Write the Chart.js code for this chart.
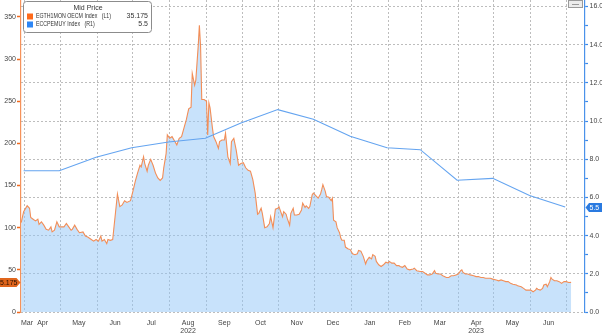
<!DOCTYPE html>
<html>
<head>
<meta charset="utf-8">
<script src="https://cdn.jsdelivr.net/npm/chart.js@4.4.0/dist/chart.umd.min.js"></script>
<style>
  html, body { margin: 0; padding: 0; background: #fff; }
  #chart { display: block; }
</style>
</head>
<body>
<canvas id="chart" width="602" height="335"></canvas>
<script>
// x values are days counted from 2022-04-01
const ttfDays = [-3,-1,2,4,5,7,9,11,12,14,16,18,20,22,23,25,27,29,31,33,35,37,39,40,42,44,46,49,51,53,56,58,60,62,64,65,67,69,70,72,74,76,78,80,82,84,86,89,
  91,93,95,97,98,100,101,103,104,106,108,110,112,114,116,117,119,120,122,124,126,128,130,132,134,136,138,140,141,143,144,146,147,148,149,151,153,154,155,156,158,159,161,163,164,166,168,169,171,173,174,176,178,180,182,184,186,188,190,
  192,194,196,197,199,200,202,204,206,207,209,211,213,214,216,217,218,220,221,223,224,226,227,229,231,233,234,236,237,239,240,242,243,245,247,249,250,251,253,254,256,258,259,260,262,263,265,266,267,269,270,272,274,276,278,280,281,283,285,287,288,290,292,293,295,296,298,300,302,304,306,307,309,311,313,315,
  316,318,320,322,324,327,328,330,333,335,337,339,341,343,345,346,348,350,352,355,357,359,361,363,365,367,368,369,371,373,375,378,380,382,384,386,388,390,392,394,397,399,401,403,405,407,409,411,414,415,418,420,422,424,426,428,430,431,432,434,436,437,439,440,442,443,444,446,448,450,452,454,456,458,460];
const ttfPrice = [106,119,126,123,112,110,108,110,104,107,103,98,97,101,95,97,107,101,101,101,105,101,97,98,103,98,94,95,90,89,86,84,86,84,90,84,86,81,86,85,86,113,140,125,127,132,130,132,
  143,155,165,174,172,184,176,167,174,181,174,165,159,156,159,171,188,210,206,208,203,198,206,208,218,228,241,243,283,269,275,315,340,315,252,252,250,210,248,242,218,208,202,194,202,204,204,212,184,176,202,206,192,174,176,177,171,168,167,
  157,141,116,117,123,117,100,101,105,113,100,122,123,125,117,113,119,116,111,103,117,123,115,115,116,121,129,124,126,123,125,139,141,138,135,140,145,151,143,137,136,132,135,109,107,100,94,88,85,85,77,75,74,69,68,69,73,72,66,57,61,65,63,68,66,60,56,54,56,59,58,60,58,58,55,55,
  54,53,55,51,50,51,52,49,48,48,46,44,44,45,49,46,45,45,43,41,41,43,43,44,45,49,50,47,45,45,44,43,42,42,41,41,40,40,40,39,38,37,38,37,36,36,34,33,32,31,30,28,26,26,26,24,26,28,27,26,28,32,33,30,36,41,39,37,37,36,34,36,36,35,35.175];

// euro area CPI YoY, plotted at each month end
const cpiDays = [-1,29,60,90,121,152,182,213,243,274,305,333,364,394,425,455];
const cpiYoY = [7.4,7.4,8.1,8.6,8.9,9.1,9.9,10.6,10.1,9.2,8.6,8.5,6.9,7.0,6.1,5.5];

const monthLabels = ['Mar','Apr','May','Jun','Jul','Aug','Sep','Oct','Nov','Dec','Jan','Feb','Mar','Apr','May','Jun'];
const yearLabels = ['','','','','','2022','','','','','','','','2023','',''];
const leftTicks = [0,50,100,150,200,250,300,350];
const rightTicks = [0,1,2,3,4,5,6,7,8,9,10,11,12,13,14,15,16];

const seriesNames = ['EGTH1MON OECM Index', 'ECCPEMUY Index'];
const seriesAxes = ['(L1)', '(R1)'];

const ORANGE = '#f28e58';
const BLUE = '#64a4f0';
const GRID = '#bdbdbd';
const FONT = '"Liberation Sans", Arial, sans-serif';

const xMin = -3.2, xMax = 471.7;
const DAY = 86400000;
const base = Date.UTC(2022, 3, 1);

// month starts (for grid lines) and label positions in the middle of each month
const gridDays = [];
const labelDays = [];
for (let k = 0; k <= 15; k++) {
  gridDays.push((Date.UTC(2022, 3 + k, 1) - base) / DAY);
}
labelDays.push(xMin + 5);
for (let k = 0; k < 15; k++) {
  labelDays.push((gridDays[k] + gridDays[k + 1]) / 2);
}
const gridSet = new Set(gridDays);
const labelMap = new Map();
labelDays.forEach((d, i) => {
  labelMap.set(d, yearLabels[i] ? [monthLabels[i], yearLabels[i]] : monthLabels[i]);
});

Chart.defaults.font.family = FONT;
Chart.defaults.font.size = 7;
Chart.defaults.color = '#444';

function tag(ctx, pts, fill) {
  ctx.beginPath();
  ctx.moveTo(pts[0][0], pts[0][1]);
  for (let i = 1; i < pts.length; i++) ctx.lineTo(pts[i][0], pts[i][1]);
  ctx.closePath();
  ctx.fillStyle = fill;
  ctx.fill();
}

// legend box, last-value tags on both axes, small toolbar box
const overlay = {
  id: 'overlay',
  afterDraw(chart) {
    const ctx = chart.ctx;
    const yL = chart.scales.y, yR = chart.scales.y1;
    const lastTtf = ttfPrice[ttfPrice.length - 1];
    const lastCpi = cpiYoY[cpiYoY.length - 1];
    ctx.save();

    // left tag
    let y = Math.round(yL.getPixelForValue(lastTtf)) + 0.5;
    tag(ctx, [[0, y - 4.5], [16.5, y - 4.5], [20.5, y], [16.5, y + 4.5], [0, y + 4.5]], '#e0661d');
    ctx.font = '7px ' + FONT;
    ctx.fillStyle = '#2a1000';
    ctx.textAlign = 'right';
    ctx.textBaseline = 'middle';
    ctx.fillText(lastTtf.toFixed(3), 17.5, y + 0.5);

    // right tag
    y = Math.round(yR.getPixelForValue(lastCpi)) + 0.5;
    const rx = yR.left;
    tag(ctx, [[rx + 0.5, y], [rx + 4, y - 4.5], [602, y - 4.5], [602, y + 4.5], [rx + 4, y + 4.5]], '#2a7ae0');
    ctx.fillStyle = '#fff';
    ctx.textAlign = 'left';
    ctx.fillText(String(lastCpi), rx + 4.5, y + 0.5);

    // toolbar box in the top right corner
    ctx.fillStyle = '#ececec';
    ctx.fillRect(568.5, 0.5, 14, 7);
    ctx.strokeStyle = '#9a9a9a';
    ctx.lineWidth = 1;
    ctx.strokeRect(568.5, 0.5, 14, 7);
    ctx.beginPath();
    ctx.moveTo(572, 4.5);
    ctx.lineTo(579, 4.5);
    ctx.stroke();

    // legend
    ctx.beginPath();
    ctx.roundRect(23.5, 1.5, 128, 31, 3);
    ctx.fillStyle = '#fff';
    ctx.fill();
    ctx.strokeStyle = '#8c8c8c';
    ctx.stroke();

    ctx.fillStyle = '#333';
    ctx.textAlign = 'center';
    ctx.fillText('Mid Price', 88, 8.5);

    const values = [lastTtf.toFixed(3), String(lastCpi)];
    const colors = ['#ff6a1a', '#2d86f5'];
    [16.5, 24.5].forEach((ry, i) => {
      ctx.fillStyle = colors[i];
      ctx.fillRect(27, ry - 3, 6, 6);
      ctx.fillStyle = '#333';
      ctx.save();
      ctx.translate(36, ry);
      ctx.scale(0.75, 1);
      ctx.textAlign = 'left';
      ctx.fillText(seriesNames[i] + '   ' + seriesAxes[i], 0, 0);
      ctx.restore();
      ctx.textAlign = 'right';
      ctx.fillText(values[i], 148, ry);
    });
    ctx.restore();
  }
};

new Chart(document.getElementById('chart').getContext('2d'), {
  type: 'line',
  data: {
    datasets: [{
      label: seriesNames[1],
      data: cpiDays.map((d, i) => ({x: d, y: cpiYoY[i]})),
      yAxisID: 'y1',
      borderColor: BLUE,
      borderWidth: 1.1,
      pointRadius: 0,
      tension: 0,
      fill: false,
      order: 1
    }, {
      label: seriesNames[0],
      data: ttfDays.map((d, i) => ({x: d, y: ttfPrice[i]})),
      yAxisID: 'y',
      borderColor: ORANGE,
      borderWidth: 1.1,
      backgroundColor: 'rgba(146,198,247,0.5)',
      pointRadius: 0,
      tension: 0,
      fill: 'origin',
      order: 2
    }]
  },
  options: {
    responsive: false,
    animation: false,
    devicePixelRatio: 1,
    layout: { padding: 0, autoPadding: false },
    plugins: { legend: { display: false }, tooltip: { enabled: false } },
    scales: {
      x: {
        type: 'linear',
        position: 'bottom',
        min: xMin,
        max: xMax,
        afterBuildTicks: s => {
          s.ticks = gridDays.concat(labelDays).sort((a, b) => a - b).map(v => ({value: v}));
        },
        afterFit: s => { s.height = 23; s.paddingLeft = 0; s.paddingRight = 0; },
        grid: {
          color: c => (c.tick && gridSet.has(c.tick.value)) ? GRID : 'rgba(0,0,0,0)',
          drawTicks: false,
          lineWidth: 1
        },
        border: { display: false, dash: [2, 2] },
        ticks: {
          autoSkip: false,
          maxRotation: 0,
          padding: 7,
          color: '#444',
          font: { size: 7, lineHeight: 1.15 },
          callback: v => labelMap.has(v) ? labelMap.get(v) : ''
        }
      },
      y: {
        position: 'left',
        min: 0,
        max: 370,
        afterBuildTicks: s => { s.ticks = leftTicks.map(v => ({value: v})); },
        afterFit: s => { s.width = 21; s.paddingTop = 0; s.paddingBottom = 0; },
        grid: { drawOnChartArea: false, tickLength: 4, tickColor: '#f26a1e', tickWidth: 1.5 },
        border: { color: '#f5925a', width: 1.2 },
        ticks: { padding: 1, color: '#444' }
      },
      y1: {
        position: 'right',
        min: 0,
        max: 16.34,
        afterBuildTicks: s => { s.ticks = rightTicks.map(v => ({value: v})); },
        afterFit: s => { s.width = 17; s.paddingTop = 0; s.paddingBottom = 0; },
        grid: {
          color: c => (c.tick && c.tick.value % 2 === 0) ? GRID : 'rgba(0,0,0,0)',
          tickColor: '#3a88e8',
          tickLength: 3,
          tickWidth: 1.2
        },
        border: { color: '#4a92ea', width: 1.2, dash: [2, 2] },
        ticks: {
          padding: 1.5,
          color: '#444',
          callback: v => v % 2 === 0 ? v.toFixed(1) : ''
        }
      }
    }
  },
  plugins: [overlay]
});
</script>
</body>
</html>
